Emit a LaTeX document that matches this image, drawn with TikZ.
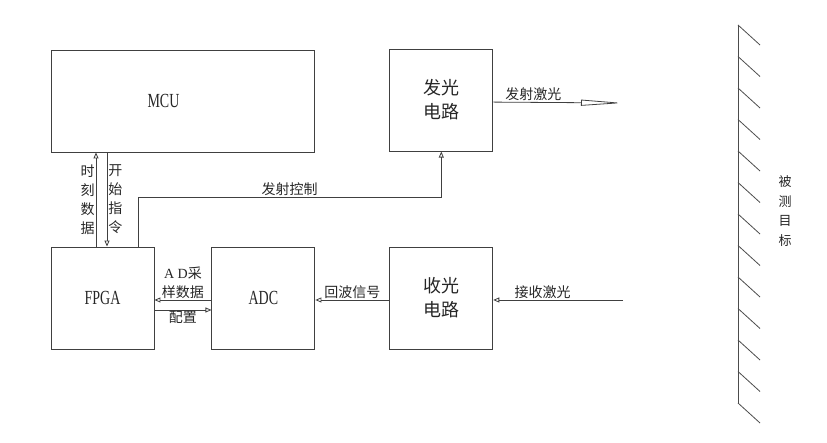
\documentclass[tikz,border=0pt]{standalone}
\usepackage{fontspec}
\setmainfont{Liberation Serif}
\newfontfamily\cjk{Noto Sans CJK SC}
\newfontfamily\narrowserif[FakeStretch=0.7]{Liberation Serif}
\usetikzlibrary{arrows.meta,positioning}

\begin{document}
\begin{tikzpicture}[
        x=1pt, y=1pt,
        every node/.style={text=black!85},
        block/.style={rectangle, draw=black!75, line width=0.9pt, minimum width=103pt, minimum height=102pt, inner sep=0pt, align=center},
        latin/.style={font=\narrowserif\fontsize{20}{22}\selectfont},
        blocktext/.style={font=\cjk\fontsize{18}{24}\selectfont},
        tag/.style={font=\cjk\fontsize{14}{19}\selectfont, inner sep=1pt, align=center},
        arrowstyle/.style={-{Triangle[open,length=6pt,width=5pt]}, draw=black!75, line width=0.8pt},
        wall/.style={draw=black!70, line width=0.8pt}
    ]
        \useasboundingbox (0,0) rectangle (827,443);

        \node[block, minimum width=263pt, label={[latin, xshift=-19pt]center:MCU}] (mcu) at (182.5,342) {};
        \node[block, latin] (fpga) at (102.5,145) {FPGA};
        \node[block, latin, right=57pt of fpga] (adc) {ADC};
        \node[block, blocktext, right=74pt of adc] (rx) {收光\\电路};
        \node[block, blocktext, above=95pt of rx] (tx) {发光\\电路};

        \coordinate (beamend) at (623,340);
        \coordinate (beamstart) at (623,143);

        % MCU <-> FPGA
        \draw[arrowstyle] ([xshift=-6.5pt]fpga.north) -- ([xshift=-6.5pt]fpga.north |- mcu.south) node[tag, midway, left] {时\\刻\\数\\据};
        \draw[arrowstyle] ([xshift=4.5pt]fpga.north |- mcu.south) -- ([xshift=4.5pt]fpga.north) node[tag, midway, right] {开\\始\\指\\令};
        \draw[arrowstyle] ([xshift=35.5pt]fpga.north) -- ++(0,49) -| (tx.south) node[tag, pos=0.25, above] {发射控制};

        % FPGA <-> ADC
        \draw[arrowstyle] ([yshift=-2pt]adc.west) -- ([yshift=-2pt]fpga.east) node[tag, midway, above] {{\rmfamily A D}采\\样数据};
        \draw[arrowstyle] ([yshift=-12pt]fpga.east) -- ([yshift=-12pt]adc.west) node[tag, midway, below] {配置};

        % optical path
        \draw[arrowstyle] ([yshift=-2pt]rx.west) -- ([yshift=-2pt]adc.east) node[tag, midway, above] {回波信号};
        \draw[arrowstyle] (beamstart) -- ([yshift=-2pt]rx.east) node[tag, pos=0.62, above] {接收激光};
        \draw[draw=black!75, line width=0.8pt, -{Triangle[open,length=42pt,width=6pt]}] ([yshift=-2pt]tx.east) -- (beamend) node[tag, pos=0.31, above] {发射激光};

        % target wall
        \coordinate (walltop) at (738,418);
        \coordinate (wallbot) at (738,40);
        \draw[wall] (walltop) -- (wallbot);
        \foreach \i in {0,...,12}
            \draw[wall] (738,418-31.5*\i) -- ++(22,-20);
        \node[tag, font=\cjk\fontsize{13}{19.5}\selectfont] (target) at (785,232) {被\\测\\目\\标};
    \end{tikzpicture}
\end{document}
